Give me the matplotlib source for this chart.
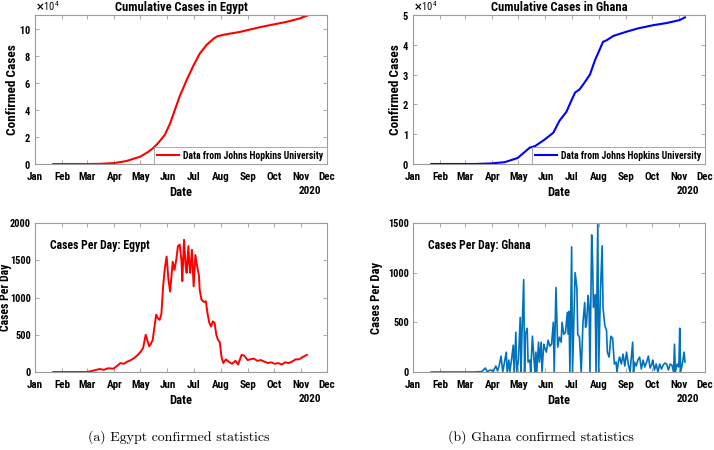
import matplotlib
matplotlib.use('Agg')
import matplotlib.pyplot as plt
import matplotlib.dates as mdates
from matplotlib.ticker import ScalarFormatter
import numpy as np

plt.rcParams['font.family'] = ['Roboto Condensed', 'Liberation Sans', 'DejaVu Sans']
plt.rcParams['font.weight'] = 'bold'

# ---- Egypt cumulative (cases)
eg_cum_dates = ['2020-01-22', '2020-03-01', '2020-03-15', '2020-04-01', '2020-04-15', '2020-05-01',
                '2020-05-10', '2020-05-16', '2020-05-22', '2020-05-29', '2020-06-04', '2020-06-15',
                '2020-06-23', '2020-07-01', '2020-07-08', '2020-07-16', '2020-07-24', '2020-07-28',
                '2020-08-05', '2020-08-23', '2020-09-15', '2020-10-16', '2020-10-31', '2020-11-08']
eg_cum = [0, 0, 100, 700, 2200, 5500,
          9000, 12000, 16000, 21600, 30000, 50000,
          62000, 73000, 81500, 88000, 92600, 94200,
          95500, 97500, 101000, 105000, 107500, 109500]

# ---- Egypt daily cases
eg_day_dates = ['2020-01-22', '2020-02-29', '2020-03-05', '2020-03-10', '2020-03-15', '2020-03-20',
                '2020-03-25', '2020-03-31', '2020-04-04', '2020-04-08', '2020-04-12', '2020-04-16',
                '2020-04-20', '2020-04-24', '2020-04-28', '2020-05-01', '2020-05-04', '2020-05-07',
                '2020-05-09', '2020-05-11', '2020-05-13', '2020-05-15', '2020-05-17', '2020-05-19',
                '2020-05-21', '2020-05-23', '2020-05-25', '2020-05-27', '2020-05-29', '2020-05-31',
                '2020-06-02', '2020-06-04', '2020-06-07', '2020-06-09', '2020-06-11', '2020-06-13',
                '2020-06-15', '2020-06-17', '2020-06-18', '2020-06-20', '2020-06-22', '2020-06-23',
                '2020-06-25', '2020-06-26', '2020-06-27', '2020-06-29', '2020-07-01', '2020-07-03',
                '2020-07-05', '2020-07-07', '2020-07-08', '2020-07-10', '2020-07-13', '2020-07-15',
                '2020-07-17', '2020-07-19', '2020-07-21', '2020-07-23', '2020-07-25', '2020-07-27',
                '2020-07-29', '2020-07-31', '2020-08-02', '2020-08-04', '2020-08-07', '2020-08-10',
                '2020-08-14', '2020-08-18', '2020-08-21', '2020-08-25', '2020-08-28', '2020-09-01',
                '2020-09-04', '2020-09-08', '2020-09-12', '2020-09-16', '2020-09-20', '2020-09-24',
                '2020-09-28', '2020-10-02', '2020-10-06', '2020-10-10', '2020-10-14', '2020-10-18',
                '2020-10-22', '2020-10-26', '2020-10-30', '2020-11-03', '2020-11-08']
eg_day = [0, 0, 10, 25, 40, 30,
          50, 45, 80, 120, 110, 140,
          160, 190, 230, 270, 320, 500,
          420, 345, 380, 430, 600, 770,
          720, 700, 780, 1150, 1400, 1550,
          1250, 1080, 1480, 1370, 1500, 1690,
          1710, 1500, 1220, 1775, 1400, 1330,
          1690, 1450, 1330, 1640, 1150, 1570,
          1420, 1300, 1100, 970, 940, 950,
          780, 660, 610, 680, 660, 500,
          430, 400, 200, 120, 170, 140,
          110, 150, 100, 230, 220, 160,
          170, 180, 150, 160, 140, 120,
          130, 110, 120, 100, 130, 120,
          140, 170, 170, 200, 230]

# ---- Ghana cumulative (cases)
gh_cum_dates = ['2020-01-22', '2020-03-12', '2020-03-31', '2020-04-15', '2020-04-30', '2020-05-06',
                '2020-05-10', '2020-05-14', '2020-05-20', '2020-05-31', '2020-06-10', '2020-06-17',
                '2020-06-25', '2020-07-01', '2020-07-05', '2020-07-10', '2020-07-15', '2020-07-22',
                '2020-07-28', '2020-08-02', '2020-08-06', '2020-08-10', '2020-08-18', '2020-09-02',
                '2020-09-15', '2020-10-03', '2020-10-18', '2020-11-02', '2020-11-08']
gh_cum = [0, 0, 200, 600, 2000, 3500,
          4500, 5500, 6000, 8200, 10500, 14500,
          17500, 21500, 24000, 25000, 27000, 30000,
          35000, 38300, 41000, 41500, 43000, 44400,
          45500, 46600, 47300, 48300, 49200]

# ---- Ghana daily cases
gh_day_dates = ['2020-01-22', '2020-03-12', '2020-03-20', '2020-03-24', '2020-03-26', '2020-03-30',
                '2020-04-02', '2020-04-05', '2020-04-07', '2020-04-09', '2020-04-11', '2020-04-13',
                '2020-04-15', '2020-04-17', '2020-04-18', '2020-04-20', '2020-04-21', '2020-04-23',
                '2020-04-25', '2020-04-26', '2020-04-28', '2020-04-29', '2020-05-01', '2020-05-03',
                '2020-05-04', '2020-05-05', '2020-05-07', '2020-05-08', '2020-05-09', '2020-05-11',
                '2020-05-12', '2020-05-14', '2020-05-15', '2020-05-17', '2020-05-19', '2020-05-20',
                '2020-05-21', '2020-05-22', '2020-05-24', '2020-05-25', '2020-05-27', '2020-05-28',
                '2020-05-30', '2020-05-31', '2020-06-02', '2020-06-04', '2020-06-06', '2020-06-08',
                '2020-06-10', '2020-06-11', '2020-06-13', '2020-06-15', '2020-06-17', '2020-06-19',
                '2020-06-20', '2020-06-22', '2020-06-24', '2020-06-26', '2020-06-27', '2020-06-28',
                '2020-06-29', '2020-07-01', '2020-07-02', '2020-07-05', '2020-07-07', '2020-07-08',
                '2020-07-10', '2020-07-12', '2020-07-14', '2020-07-16', '2020-07-17', '2020-07-18',
                '2020-07-20', '2020-07-21', '2020-07-22', '2020-07-24', '2020-07-25', '2020-07-26',
                '2020-07-28', '2020-07-29', '2020-07-31', '2020-08-01', '2020-08-03', '2020-08-05',
                '2020-08-06', '2020-08-08', '2020-08-10', '2020-08-11', '2020-08-13', '2020-08-15',
                '2020-08-17', '2020-08-19', '2020-08-21', '2020-08-22', '2020-08-24', '2020-08-25',
                '2020-08-27', '2020-08-29', '2020-08-31', '2020-09-02', '2020-09-04', '2020-09-06',
                '2020-09-07', '2020-09-09', '2020-09-10', '2020-09-11', '2020-09-13', '2020-09-15',
                '2020-09-17', '2020-09-19', '2020-09-21', '2020-09-23', '2020-09-25', '2020-09-27',
                '2020-09-29', '2020-10-01', '2020-10-02', '2020-10-04', '2020-10-06', '2020-10-08',
                '2020-10-10', '2020-10-12', '2020-10-14', '2020-10-16', '2020-10-18', '2020-10-20',
                '2020-10-22', '2020-10-24', '2020-10-26', '2020-10-27', '2020-10-28', '2020-10-30',
                '2020-11-01', '2020-11-02', '2020-11-03', '2020-11-05', '2020-11-07', '2020-11-08']
gh_day = [0, 0, 5, 40, 5, 20,
          5, 60, 10, 70, 160, 0,
          100, 200, 0, 120, 0, 120,
          270, 0, 400, 0, 120, 550,
          0, 380, 930, 0, 380, 440,
          100, 120, 0, 360, 100, 0,
          200, 0, 300, 100, 300, 0,
          280, 250, 200, 320, 260, 280,
          500, 0, 850, 250, 350, 300,
          500, 380, 400, 600, 380, 610,
          0, 1260, 0, 1000, 850, 380,
          350, 0, 500, 700, 450, 480,
          770, 650, 0, 1380, 1120, 650,
          780, 0, 1520, 0, 800, 1270,
          650, 470, 420, 200, 150, 360,
          340, 80, 100, 0, 120, 150,
          80, 180, 60, 200, 80, 0,
          100, 300, 0, 100, 60, 120,
          150, 30, 120, 50, 100, 160,
          40, 80, 120, 20, 80, 0,
          80, 30, 70, 90, 80, 20,
          80, 70, 0, 280, 0, 80,
          50, 440, 0, 80, 200, 100]

month_ticks = ['2020-%02d-01' % m for m in range(1, 13)]
month_labels = ['Jan', 'Feb', 'Mar', 'Apr', 'May', 'Jun', 'Jul', 'Aug', 'Sep', 'Oct', 'Nov', 'Dec']

W, H = 714, 450
fig = plt.figure(figsize=(W / 100, H / 100), dpi=100)


def style_axes(ax, ylab_x, ylab, ylab_size):
    for s in ax.spines.values():
        s.set_color('#9a9a9a')
        s.set_linewidth(0.8)
    ax.tick_params(direction='in', length=3, width=0.6, color='#9a9a9a',
                   labelsize=8, top=True, right=True, labelcolor='black')
    ax.tick_params(axis='x', pad=6)
    ax.tick_params(axis='y', labelsize=7.5, pad=3)
    xt = mdates.date2num(np.array(month_ticks, dtype='datetime64[D]'))
    ax.set_xticks(xt)
    ax.set_xticklabels(month_labels, fontweight='bold')
    ax.set_xlim(xt[0], xt[-1])
    ax.set_xlabel('Date', fontsize=9, fontweight='bold')
    ax.xaxis.set_label_coords(0.5, -22 / 149)
    ax.annotate('2020', xy=(0.94, 0), xycoords='axes fraction', xytext=(0, -19.5),
                textcoords='offset points', ha='center', va='center', fontsize=8, fontweight='bold')
    ax.set_ylabel(ylab, fontsize=ylab_size, fontweight='bold')
    ax.yaxis.set_label_coords(ylab_x, 0.5)


def to_dates(d):
    return np.array(d, dtype='datetime64[D]')


def cum_panel(rect, dates, vals, color, title, ymax, yticks, ylab_x):
    ax = fig.add_axes(rect)
    ax.plot(to_dates(dates), vals, color=color, lw=1.5, label='Data from Johns Hopkins University')
    style_axes(ax, ylab_x, 'Confirmed Cases', 9.5)
    ax.set_ylim(0, ymax)
    ax.set_yticks(yticks)
    fmt = ScalarFormatter(useMathText=True)
    fmt.set_powerlimits((4, 4))
    ax.yaxis.set_major_formatter(fmt)
    for lab in ax.get_yticklabels():
        lab.set_fontweight('bold')
    ax.yaxis.get_offset_text().set_fontsize(7.5)
    ax.yaxis.get_offset_text().set_fontweight('normal')
    ax.set_title(title, fontsize=9, fontweight='bold', pad=3)
    leg = ax.legend(loc='lower right', fontsize=7, handlelength=2.2, borderpad=0.35,
                    borderaxespad=0.0, fancybox=False, framealpha=1, handletextpad=0.5)
    leg.get_frame().set_edgecolor('#9a9a9a')
    leg.get_frame().set_linewidth(0.6)
    return ax


def day_panel(rect, dates, vals, color, lw, label, ymax, yticks, ylab_x, ylab_size):
    ax = fig.add_axes(rect)
    ax.plot(to_dates(dates), vals, color=color, lw=lw)
    style_axes(ax, ylab_x, 'Cases Per Day', ylab_size)
    ax.set_ylim(0, ymax)
    ax.set_yticks(yticks)
    for lab in ax.get_yticklabels():
        lab.set_fontweight('bold')
    ax.text(0.05, 0.85, label, transform=ax.transAxes, fontsize=8.5, fontweight='bold', va='center')
    return ax


aw, ah = 292 / W, 149 / H
top_b = 1 - 164 / H
bot_b = 1 - 372 / H
lx, rx = 35 / W, 413 / W

cum_panel([lx, top_b, aw, ah], eg_cum_dates, eg_cum, 'red', 'Cumulative Cases in Egypt',
          110000, [0, 20000, 40000, 60000, 80000, 100000], (19 - 35) / 292)
cum_panel([rx, top_b, aw, ah], gh_cum_dates, gh_cum, 'blue', 'Cumulative Cases in Ghana',
          50000, [0, 10000, 20000, 30000, 40000, 50000], (402 - 413) / 292)
day_panel([lx, bot_b, aw, ah], eg_day_dates, eg_day, 'red', 1.4, 'Cases Per Day: Egypt',
          2000, [0, 500, 1000, 1500, 2000], (12 - 35) / 292, 8.5)
day_panel([rx, bot_b, aw, ah], gh_day_dates, gh_day, '#0072BD', 1.2, 'Cases Per Day: Ghana',
          1500, [0, 500, 1000, 1500], (383 - 413) / 292, 9)

fig.text(179 / W, 1 - 437 / H, '(a) Egypt confirmed statistics', family='cmr10',
         fontweight='normal', fontsize=10, ha='center', va='center')
fig.text(541 / W, 1 - 437 / H, '(b) Ghana confirmed statistics', family='cmr10',
         fontweight='normal', fontsize=10, ha='center', va='center')

fig.savefig('out.png', dpi=100)
